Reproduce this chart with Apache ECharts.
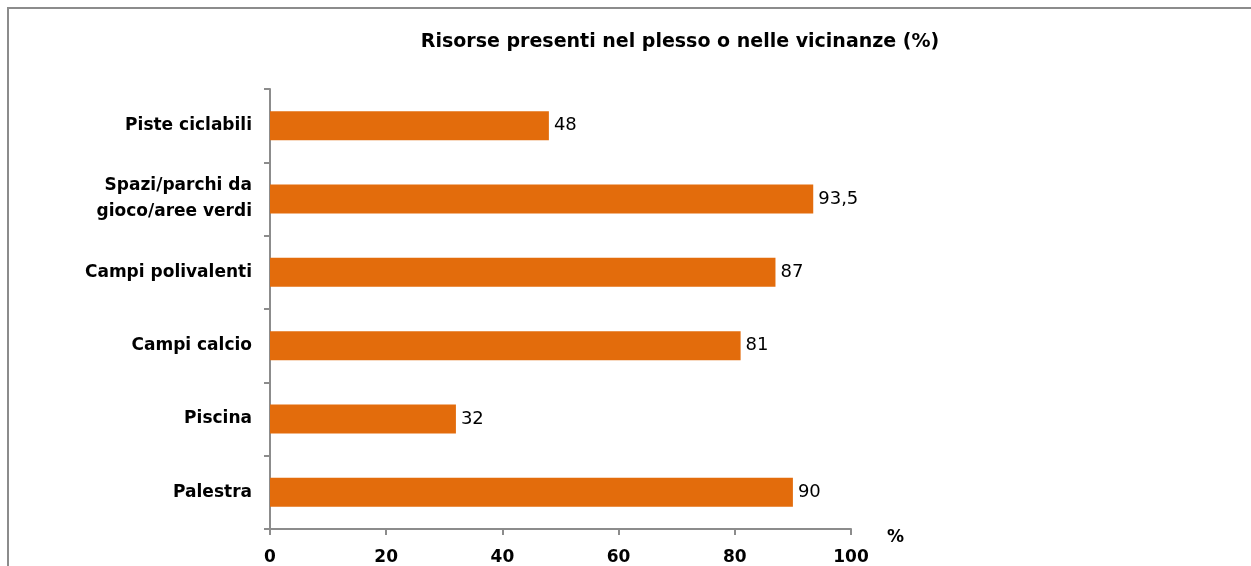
<!DOCTYPE html>
<html>
<head>
<meta charset="utf-8">
<script src="https://cdn.jsdelivr.net/npm/echarts@6/dist/echarts.min.js"></script>
<style>
  html, body { margin: 0; padding: 0; background: #fff; }
  #chart { width: 1251px; height: 566px; }
</style>
</head>
<body>
<div id="chart"></div>
<script>
// dati
var categorie = ["Piste ciclabili", "Spazi/parchi da\ngioco/aree verdi", "Campi polivalenti", "Campi calcio", "Piscina", "Palestra"];
var valori = [48, 93.5, 87, 81, 32, 90];
var titolo = "Risorse presenti nel plesso o nelle vicinanze (%)";

var myChart = echarts.init(document.getElementById("chart"));
var font = "DejaVu Sans";

var option = {
  animation: false,
  title: {
    text: titolo,
    left: 675,
    top: 28,
    textAlign: "center",
    textStyle: { fontFamily: font, fontSize: 19, fontWeight: "bold", color: "#000" }
  },
  graphic: [{
    type: "rect",
    shape: { x: 8, y: 8, width: 1300, height: 700 },
    style: { fill: "none", stroke: "#8c8c8c", lineWidth: 2 }
  }],
  grid: { left: 270, right: 400, top: 89, height: 440 },
  xAxis: {
    type: "value",
    min: 0,
    max: 100,
    interval: 20,
    name: "%",
    nameLocation: "end",
    nameGap: 36,
    nameTextStyle: { fontFamily: font, fontSize: 17, fontWeight: "bold", color: "#000", verticalAlign: "top" },
    axisLine: { show: true, lineStyle: { color: "#8c8c8c", width: 2 } },
    axisTick: { show: true, length: 6, lineStyle: { color: "#8c8c8c", width: 2 } },
    splitLine: { show: false },
    axisLabel: { fontFamily: font, fontSize: 17, fontWeight: "bold", color: "#000", margin: 20 }
  },
  yAxis: {
    type: "category",
    inverse: true,
    data: categorie,
    axisLine: { show: true, lineStyle: { color: "#8c8c8c", width: 2 } },
    axisTick: { show: true, length: 6, lineStyle: { color: "#8c8c8c", width: 2 } },
    axisLabel: { fontFamily: font, fontSize: 17, fontWeight: "bold", color: "#000", margin: 18, lineHeight: 26, align: "right" }
  },
  series: [{
    type: "bar",
    data: valori,
    barWidth: 29,
    itemStyle: { color: "#e36c0c" },
    label: {
      show: true,
      position: "right",
      distance: 5,
      fontFamily: font,
      fontSize: 18,
      color: "#000",
      formatter: function (p) { return String(p.value).replace(".", ","); }
    }
  }]
};
myChart.setOption(option);
</script>
</body>
</html>
